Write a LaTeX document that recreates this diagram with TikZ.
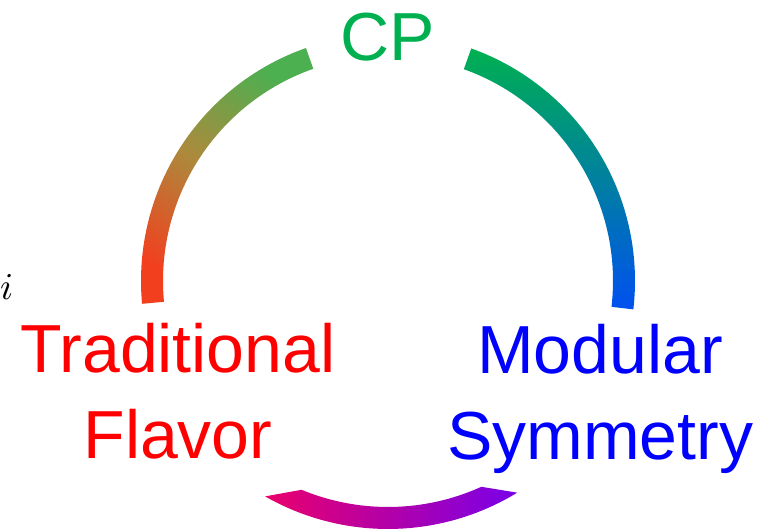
\documentclass[tikz,border=0pt]{standalone}
\usepackage{graphicx}
\usepackage{fontspec}
\setmainfont{Liberation Sans}
\begin{document}
\begin{tikzpicture}[x=1pt,y=1pt,
  label/.style={inner sep=0pt, font=\fontsize{68}{86}\selectfont, align=center, anchor=base}]
\definecolor{cpgreen}{HTML}{00B050}
\definecolor{lgreen}{HTML}{4CAF50}
\definecolor{lmid}{HTML}{AC8A3C}
\definecolor{lred}{HTML}{F2401F}
\definecolor{rblue}{HTML}{0050F0}
\definecolor{bpink}{HTML}{EA006C}
\definecolor{bviolet}{HTML}{7800E8}
\useasboundingbox (0,0) rectangle (758,529);
\coordinate (c) at (388,248);
% left arc
\shade[bottom color=lred, top color=lgreen, middle color=lmid, shading angle=-33]
  ([shift={(185.3:247)}]c) arc[start angle=185.3,end angle=109.4,radius=247]
  -- ([shift={(109.4:225)}]c) arc[start angle=109.4,end angle=185.3,radius=225] -- cycle;
% right arc
\shade[bottom color=rblue, top color=cpgreen, shading angle=0]
  ([shift={(70.3:247)}]c) arc[start angle=70.3,end angle=-6.6,radius=247]
  -- ([shift={(-6.6:225)}]c) arc[start angle=-6.6,end angle=70.3,radius=225] -- cycle;
% bottom arc
\shade[left color=bpink, right color=bviolet]
  ([shift={(240.3:248)}]c) arc[start angle=240.3,end angle=301.4,radius=248]
  -- ([shift={(294.4:226)}]c) arc[start angle=294.4,end angle=247.5,radius=226] -- cycle;
% labels
\node[label, text=cpgreen] (cp) at (388,468) {CP};
\node[label, text=red] (trad) at (178,70) {Traditional\\Flavor};
\node[label, text=blue] (mod) at (600,69) {Modular\\Symmetry};
\node[inner sep=0pt, anchor=base west] (ivar) at (0,229) {\scalebox{3.8}{$i$}};
\end{tikzpicture}
\end{document}
